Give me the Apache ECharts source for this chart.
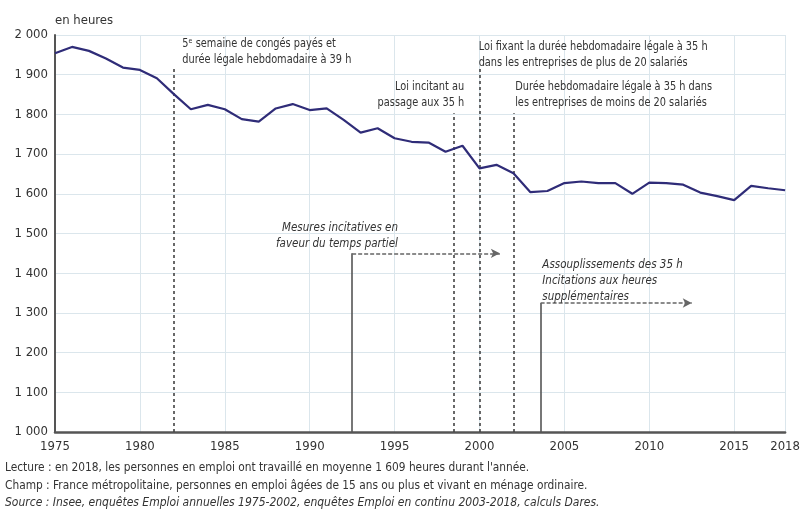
<!DOCTYPE html>
<html><head><meta charset="utf-8">
<script src="https://cdn.jsdelivr.net/npm/echarts@6/dist/echarts.min.js"></script>
<style>html,body{margin:0;padding:0;background:#fff}#c{width:803px;height:516px}</style>
</head><body><div id="c"></div>
<script>
const years = [1975,1976,1977,1978,1979,1980,1981,1982,1983,1984,1985,1986,1987,1988,1989,1990,1991,1992,1993,1994,1995,1996,1997,1998,1999,2000,2001,2002,2003,2004,2005,2006,2007,2008,2009,2010,2011,2012,2013,2014,2015,2016,2017,2018];
const hours = [1954,1970,1960,1941,1918,1912,1891,1851,1813,1824,1813,1788,1782,1815,1826,1811,1815,1786,1754,1765,1740,1731,1729,1706,1721,1664,1673,1652,1604,1607,1627,1631,1627,1627,1600,1628,1627,1623,1603,1594,1584,1620,1614,1609];
const xTickLabels = [1975,1980,1985,1990,1995,2000,2005,2010,2015,2018];
const yMin = 1000, yMax = 2000, yStep = 100;
const eventYears = [1982, 1998.5, 2000, 2002];
const eventTops = [1917, 1803, 1917, 1803];
const arrowStarts = [1992.5, 2003.6];
const arrowEnds = [2001.2, 2012.5];
const arrowLevels = [1450, 1325];
const noteTexts = [
  "5\u1d49 semaine de congés payés et\ndurée légale hebdomadaire à 39 h",
  "Loi incitant au\npassage aux 35 h",
  "Loi fixant la durée hebdomadaire légale à 35 h\ndans les entreprises de plus de 20 salariés",
  "Durée hebdomadaire légale à 35 h dans\nles entreprises de moins de 20 salariés",
  "Mesures incitatives en\nfaveur du temps partiel",
  "Assouplissements des 35 h\nIncitations aux heures\nsupplémentaires"
];
const noteYears = [1982.5, 1999.1, 1999.95, 2002.1, 1995.2, 2003.7];
const noteValues = [1997, 1889, 1990, 1889, 1534, 1441];
const noteAlign = ['left','right','left','left','right','left'];
const noteItalic = [false,false,false,false,true,true];
const unitLabel = "en heures";
const footLines = [
  "Lecture : en 2018, les personnes en emploi ont travaillé en moyenne 1 609 heures durant l'année.",
  "Champ : France métropolitaine, personnes en emploi âgées de 15 ans ou plus et vivant en ménage ordinaire.",
  "Source : Insee, enquêtes Emploi annuelles 1975-2002, enquêtes Emploi en continu 2003-2018, calculs Dares."
];

const FONT = "'DejaVu Sans Condensed','Liberation Sans',sans-serif";
const chart = echarts.init(document.getElementById('c'), null, {renderer:'canvas'});

const markLineData = [];
eventYears.forEach((y,i)=>{
  markLineData.push([{coord:[y, yMin], lineStyle:{type:[3,3], width:1.6, color:'#444'}}, {coord:[y, eventTops[i]]}]);
});
arrowStarts.forEach((s,i)=>{
  markLineData.push([{coord:[s, yMin], lineStyle:{type:'solid', width:1.6, color:'#555'}, symbol:'none'}, {coord:[s, arrowLevels[i]], symbol:'none'}]);
  markLineData.push([{coord:[s, arrowLevels[i]], lineStyle:{type:[4,2], width:1.6, color:'#666'}, symbol:'none'}, {coord:[arrowEnds[i], arrowLevels[i]], symbol:'arrow', symbolSize:[7,9]}]);
});

const option = {
  animation:false,
  backgroundColor:'#fff',
  grid:{left:55, right:15, top:35, bottom:84, containLabel:false},
  xAxis:{type:'value', min:1975, max:2018, interval:5,
    axisLine:{show:true, onZero:false, lineStyle:{color:'#555', width:2.5}},
    axisTick:{show:false},
    axisLabel:{customValues:xTickLabels, color:'#333', fontFamily:FONT, fontSize:13, margin:8, formatter:v=>String(v)},
    splitLine:{show:true, lineStyle:{color:'#dbe6ec', width:1}}
  },
  yAxis:{type:'value', min:yMin, max:yMax, interval:yStep,
    axisLine:{show:true, lineStyle:{color:'#555', width:2}},
    axisTick:{show:false},
    axisLabel:{color:'#333', fontFamily:FONT, fontSize:13, margin:7,
      formatter:v=>String(v).replace(/\B(?=(\d{3})+(?!\d))/g,' ')},
    splitLine:{show:true, lineStyle:{color:'#dbe6ec', width:1}}
  },
  series:[{
    type:'line', data:years.map((y,i)=>[y,hours[i]]), showSymbol:false, symbol:'none',
    lineStyle:{color:'#2f2c78', width:2.2}, z:5,
    markLine:{silent:true, symbol:'none', label:{show:false}, data:markLineData, animation:false}
  }]
};
chart.setOption(option);

const graphics = [];
noteTexts.forEach((t,i)=>{
  const p = chart.convertToPixel({gridIndex:0}, [noteYears[i], noteValues[i]]);
  graphics.push({type:'text', x:p[0], y:p[1], z:10, scaleX:noteItalic[i]?0.92:0.87,
    style:{text:t, fill:'#333', font:(noteItalic[i]?'italic ':'')+'12.5px '+FONT, lineHeight:16, align:noteAlign[i], verticalAlign:'top'}});
});
graphics.push({type:'text', x:55, y:21, style:{text:unitLabel, fill:'#333', font:'13px '+FONT, verticalAlign:'middle'}});
footLines.forEach((t,i)=>{
  graphics.push({type:'text', x:5, y:468+i*17.5,
    style:{text:t, fill:'#333', font:(i===2?'italic 12px ':'11.8px ')+FONT, verticalAlign:'middle'}});
});
chart.setOption({graphic:graphics});
</script></body></html>
